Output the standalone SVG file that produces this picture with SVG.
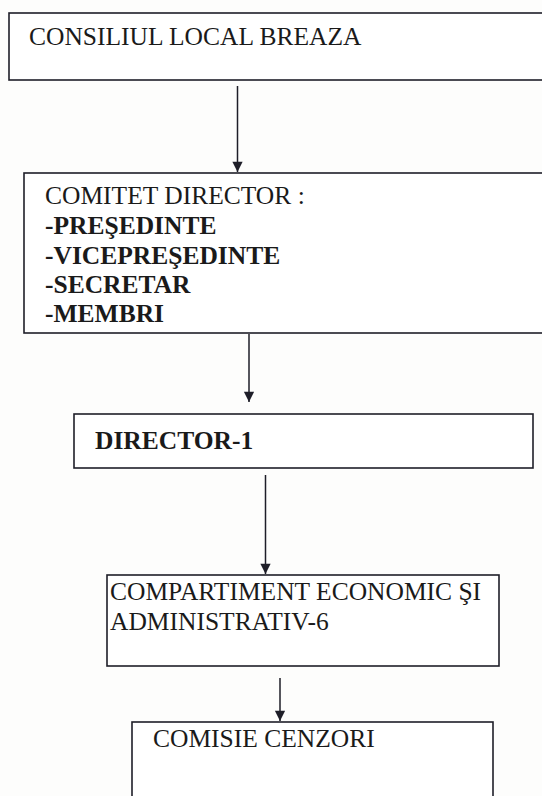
<svg xmlns="http://www.w3.org/2000/svg" width="542" height="796" viewBox="0 0 542 796">
<defs>
<style>
.box{fill:#ffffff;stroke:#1e1e28;stroke-width:1.6}
.t{font-family:"Liberation Serif","Times New Roman",serif;font-size:25.5px;fill:#1a1a1a}
.b{font-weight:bold}
.c{stroke:#1e1e28;stroke-width:1.5;fill:none;marker-end:url(#ah)}
</style>
<marker id="ah" viewBox="0 0 12 14" refX="12" refY="6" markerWidth="14" markerHeight="12" markerUnits="userSpaceOnUse" orient="auto">
<path d="M0,0 L12,6 L0,12 Z" fill="#1e1e28"/>
</marker>
</defs>
<rect width="542" height="796" fill="#fdfdfc"/>
<g id="connectors">
<line class="c" x1="237.5" y1="86" x2="237.5" y2="172"/>
<line class="c" x1="249" y1="334" x2="249" y2="402"/>
<line class="c" x1="265.5" y1="475" x2="265.5" y2="574"/>
<line class="c" x1="280" y1="678" x2="280" y2="721"/>
</g>
<g id="consiliul">
<rect class="box" x="9" y="13" width="545" height="67"/>
<text class="t" x="29" y="45">CONSILIUL LOCAL BREAZA</text>
</g>
<g id="comitet">
<rect class="box" x="24" y="173" width="530" height="160"/>
<text class="t" x="45" y="204">COMITET DIRECTOR :</text>
<text class="t b" x="45" y="234">-PREŞEDINTE</text>
<text class="t b" x="45" y="264">-VICEPREŞEDINTE</text>
<text class="t b" x="45" y="293">-SECRETAR</text>
<text class="t b" x="45" y="322">-MEMBRI</text>
</g>
<g id="director">
<rect class="box" x="74" y="414" width="459" height="54"/>
<text class="t b" x="95" y="449">DIRECTOR-1</text>
</g>
<g id="compartiment">
<rect class="box" x="107" y="575" width="392" height="91"/>
<text class="t" x="110" y="600">COMPARTIMENT ECONOMIC ŞI</text>
<text class="t" x="110" y="630">ADMINISTRATIV-6</text>
</g>
<g id="comisie">
<rect class="box" x="132" y="722" width="361" height="90"/>
<text class="t" x="153" y="747">COMISIE CENZORI</text>
</g>
</svg>
